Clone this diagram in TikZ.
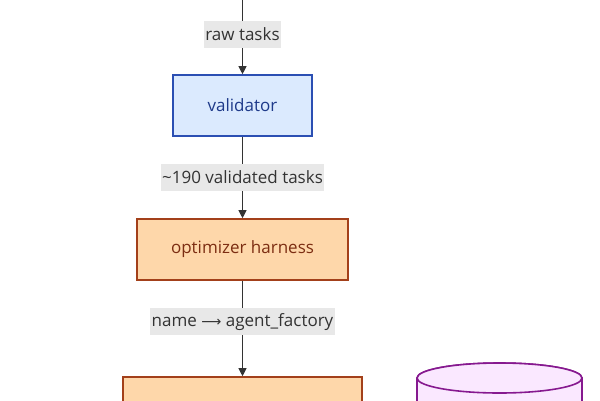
\documentclass[tikz,border=0pt]{standalone}
\usepackage{fontspec}
\setmainfont{Open Sans}
\newfontfamily\symfont{DejaVu Sans}
\usetikzlibrary{arrows.meta}
\definecolor{edgec}{HTML}{333333}
\definecolor{lblbg}{HTML}{E8E8E8}
\definecolor{bluefill}{HTML}{DBEAFE}
\definecolor{blueline}{HTML}{2B4FB3}
\definecolor{bluetext}{HTML}{1E3A8A}
\definecolor{orfill}{HTML}{FED7AA}
\definecolor{orline}{HTML}{A3401A}
\definecolor{ortext}{HTML}{7C2D12}
\definecolor{pufill}{HTML}{FAE8FF}
\definecolor{puline}{HTML}{86198F}
\tikzset{
  procbox/.style={draw, line width=1.6pt, minimum height=61pt, inner sep=0pt, font=\fontsize{17}{20}\selectfont},
  bluebox/.style={procbox, fill=bluefill, draw=blueline, text=bluetext},
  orangebox/.style={procbox, fill=orfill, draw=orline, text=ortext},
  flow/.style={draw=edgec, line width=1pt, -{Triangle[length=8pt,width=8pt]}},
  elabel/.style={fill=lblbg, text=edgec, inner xsep=1.5pt, minimum height=27pt, font=\fontsize{17}{20}\selectfont}
}
\begin{document}
\begin{tikzpicture}[x=1pt,y=-1pt]
\useasboundingbox (0,0) rectangle (600,400);
\clip (0,0) rectangle (600,400);
\fill[white] (0,0) rectangle (600,400);
\coordinate (src) at (242.5,-5);
\node[bluebox, minimum width=139pt] (val) at (242.5,105.5) {validator};
\node[orangebox, minimum width=211pt] (opt) at (242.5,249.5) {optimizer harness};
\node[orangebox, minimum width=239pt] (fac) at (242.5,407.5) {};
\draw[flow] (src) -- node[elabel] (l1) {raw tasks} (val);
\draw[flow] (val) -- node[elabel] (l2) {\char`\~190 validated tasks} (opt);
\draw[flow] (opt) -- node[elabel, pos=0.43] (l3) {name {\symfont\fontsize{14}{16}\selectfont ⟶} agent\_factory} (fac);
% cylinder (store)
\draw[line width=1.6pt, draw=puline, fill=pufill]
  (417,378) -- (417,430) -- (582,430) -- (582,378)
  arc[start angle=0, end angle=-180, x radius=82.5, y radius=15] -- cycle;
\draw[line width=1.6pt, draw=puline, fill=pufill]
  (499.5,378) ellipse[x radius=82.5, y radius=15];
\end{tikzpicture}
\end{document}
